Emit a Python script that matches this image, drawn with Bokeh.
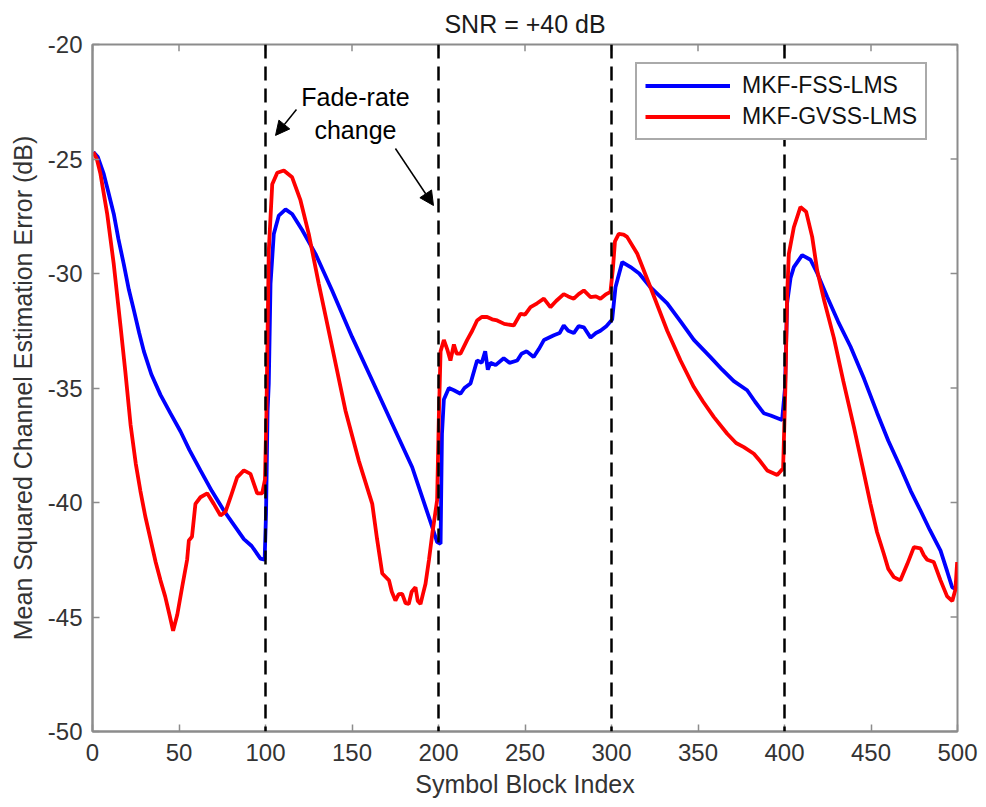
from bokeh.plotting import figure
from bokeh.models import (Span, Arrow, NormalHead, Label, Legend, LegendItem,
                          FixedTicker, Range1d, CustomJSTickFormatter)
from bokeh.embed import file_html
from bokeh.resources import INLINE

# ---------------- data ----------------
fss_x = [0.5, 3, 6.5, 9, 12.3, 15, 18.1, 21, 23.9, 27, 29.7, 34, 39.3, 45, 50.9, 56, 62.4, 69, 75.9, 81,
         87.5, 92, 97.1, 99.5, 100.3, 101.2, 101.9, 102.9, 104.8, 107.7, 111.6, 115.4, 121.2, 128.9, 138.5,
         150.1, 161.7, 173.2, 184.8, 196.4, 199.2, 201.2, 202, 203.1, 206, 208.9, 212.7, 215, 218.5, 222.3,
         225, 227, 228.5, 230, 233, 237.7, 241, 245.5, 248, 251, 255, 258, 261, 266.7, 270, 272.4, 275,
         278.2, 281, 284, 287.9, 291, 293.6, 297, 299.4, 300.4, 302.3, 306.2, 311, 316, 322.5, 332.2, 340,
         347.6, 357.2, 364, 370.7, 378.4, 383, 388, 392, 398.6, 400.3, 401.5, 403.5, 405.4, 410.2, 415, 419,
         424.7, 431, 438.2, 446, 453.6, 460, 467, 473, 478.6, 484, 490.2, 494, 496.9, 499.5]
fss_y = [-24.7, -24.9, -25.65, -26.4, -27.4, -28.5, -29.6, -30.7, -31.6, -32.6, -33.4, -34.4, -35.3, -36.1,
         -36.9, -37.7, -38.6, -39.5, -40.35, -40.9, -41.6, -41.9, -42.45, -42.5, -40.5, -36.0, -34.8, -30.45,
         -28.27, -27.47, -27.2, -27.4, -28.1, -29.14, -30.74, -32.78, -34.67, -36.56, -38.46, -41.08, -41.73,
         -41.8, -37.0, -35.5, -35.0, -35.1, -35.25, -35.0, -34.8, -33.8, -33.9, -33.4, -34.2, -33.9, -34.0,
         -33.7, -33.9, -33.8, -33.5, -33.4, -33.65, -33.3, -32.9, -32.7, -32.6, -32.27, -32.5, -32.6, -32.3,
         -32.35, -32.8, -32.6, -32.5, -32.3, -32.1, -32.0, -30.6, -29.5, -29.72, -30.0, -30.6, -31.3, -32.1,
         -32.9, -33.65, -34.2, -34.7, -35.1, -35.6, -36.1, -36.2, -36.4, -35.0, -31.3, -30.2, -29.72, -29.2,
         -29.4, -30.0, -31.03, -32.1, -33.2, -34.6, -36.1, -37.3, -38.46, -39.5, -40.35, -41.2, -42.1, -43.0,
         -43.7, -43.8]

gvss_x = [0.5, 2.5, 4.6, 8.5, 12.3, 16.2, 19, 22, 25, 27.7, 30.5, 33.5, 36.5, 39.3, 42, 44.5, 46.6, 49, 51.8,
          54.7, 55.7, 57.5, 59.5, 62.4, 66.3, 70.1, 74, 76.9, 79.8, 83.6, 87.5, 91.3, 95.2, 98.1, 99.7, 100.5,
          101.9, 103.9, 106.8, 110.6, 115.4, 120.2, 125, 130.8, 138.5, 146.2, 153.9, 161.7, 164.5, 167.5,
          171.4, 173, 175.1, 177, 179, 181, 182.8, 184.5, 186.7, 188, 189.6, 191, 192.5, 194.5, 196.4, 199.2,
          200.2, 201.2, 203.1, 205, 206.9, 208.9, 210.5, 212.7, 216.6, 219.5, 222.3, 225, 228.1, 231, 233.9,
          238, 243.5, 247.4, 250, 253.2, 257, 260.9, 264.7, 268, 272.4, 275, 278.2, 281, 284, 287.9, 291,
          293.6, 297, 299.4, 300.8, 302, 304.2, 307, 309, 314.9, 322.5, 332.2, 339.9, 347.6, 353, 359.2,
          366.9, 372, 376.5, 382.3, 386, 390, 395.8, 399.2, 400.5, 401.5, 402.5, 405.4, 409.2, 412.5, 416,
          418.9, 423, 428.5, 434, 440.1, 445, 449.7, 453.5, 457.4, 460, 463.2, 467, 470.9, 474.8, 478.6,
          480.5, 482.5, 486.3, 490.2, 494, 497, 498.8, 499.8]
gvss_y = [-24.7, -25.0, -25.65, -27.4, -29.6, -32.3, -34.3, -36.6, -38.3, -39.5, -40.6, -41.6, -42.6, -43.4,
          -44.1, -44.9, -45.6, -44.9, -43.7, -42.5, -41.66, -41.5, -40.06, -39.77, -39.6, -40.06, -40.57,
          -40.4, -39.77, -38.9, -38.6, -38.75, -39.6, -39.6, -39.0, -36.3, -29.0, -26.1, -25.6, -25.5, -25.8,
          -26.8, -28.27, -30.45, -33.2, -35.98, -38.17, -40.06, -41.6, -43.1, -43.4, -43.9, -44.28, -44.0,
          -43.99, -44.4, -44.43, -43.9, -43.7, -44.3, -44.43, -44.0, -43.55, -42.5, -41.37, -39.9, -36.27,
          -33.4, -32.9, -33.3, -33.8, -33.1, -33.5, -33.5, -32.9, -32.5, -32.05, -31.9, -31.9, -32.0, -32.05,
          -32.2, -32.27, -31.76, -31.8, -31.47, -31.3, -31.1, -31.47, -31.2, -30.9, -31.0, -31.1, -30.9,
          -30.74, -31.03, -31.0, -31.1, -30.9, -30.8, -29.8, -28.6, -28.27, -28.3, -28.4, -29.14, -30.6,
          -32.5, -33.8, -34.96, -35.6, -36.27, -37.0, -37.4, -37.58, -37.87, -38.2, -38.6, -38.8, -38.5,
          -35.0, -31.0, -29.14, -27.98, -27.1, -27.3, -28.4, -29.87, -31.2, -32.8, -34.7, -36.7, -38.4,
          -40.06, -41.3, -42.24, -42.9, -43.26, -43.4, -42.7, -41.95, -42.0, -42.3, -42.5, -42.6, -43.4,
          -44.1, -44.3, -43.8, -42.6]

change_points = [100, 200, 300, 400]
series_names = ["MKF-FSS-LMS", "MKF-GVSS-LMS"]
x_ticks = [0, 50, 100, 150, 200, 250, 300, 350, 400, 450, 500]
y_ticks = [-50, -45, -40, -35, -30, -25, -20]
title_text = "SNR = +40 dB"

# ---------------- styling ----------------
FONT = "Liberation Sans"
AXIS_GREY = "#8c8c8c"
TEXT_GREY = "#333333"
X_MIN, X_MAX, Y_MIN, Y_MAX = 0, 500, -50, -20

p = figure(frame_width=865, frame_height=687,
           x_range=Range1d(X_MIN, X_MAX), y_range=Range1d(Y_MIN, Y_MAX),
           output_backend="svg", toolbar_location=None,
           min_border_left=92, min_border_right=29, min_border_top=44, min_border_bottom=76,
           title=title_text)
p.title.align = "center"
p.title.text_font = FONT
p.title.text_font_size = "25px"
p.title.text_font_style = "normal"
p.title.text_color = "#1a1a1a"
p.title.standoff = 13

p.xgrid.visible = False
p.ygrid.visible = False
p.outline_line_color = AXIS_GREY
p.outline_line_width = 2
p.background_fill_color = "white"
p.border_fill_color = "white"

fmt = CustomJSTickFormatter(code="return tick.toString();")
for ax in (p.xaxis[0], p.yaxis[0]):
    ax.formatter = fmt
    ax.axis_line_color = AXIS_GREY
    ax.axis_line_width = 2
    ax.major_tick_line_color = AXIS_GREY
    ax.major_tick_line_width = 1.5
    ax.major_tick_in = 7
    ax.major_tick_out = 0
    ax.minor_tick_line_color = None
    ax.major_label_text_font = FONT
    ax.major_label_text_font_size = "24px"
    ax.major_label_text_color = TEXT_GREY
    ax.axis_label_text_font = FONT
    ax.axis_label_text_font_size = "25px"
    ax.axis_label_text_font_style = "normal"
    ax.axis_label_text_color = TEXT_GREY

p.xaxis[0].ticker = FixedTicker(ticks=x_ticks)
p.yaxis[0].ticker = FixedTicker(ticks=y_ticks)
p.xaxis[0].axis_label = "Symbol Block Index"
p.yaxis[0].axis_label = "Mean Squared Channel Estimation Error (dB)"
p.xaxis[0].major_label_standoff = 12
p.xaxis[0].axis_label_standoff = 6
p.yaxis[0].major_label_standoff = 10
p.yaxis[0].axis_label_standoff = 8

# mirrored (inward) tick marks on the top and right edges, from the tick lists
TICK_DY = 0.3   # data units ~ 7 px
TICK_DX = 4.0   # data units ~ 7 px
p.segment(x0=x_ticks, y0=[Y_MAX] * len(x_ticks), x1=x_ticks, y1=[Y_MAX - TICK_DY] * len(x_ticks),
          line_color=AXIS_GREY, line_width=1.5)
p.segment(x0=[X_MAX] * len(y_ticks), y0=y_ticks, x1=[X_MAX - TICK_DX] * len(y_ticks), y1=y_ticks,
          line_color=AXIS_GREY, line_width=1.5)

# fade-rate change markers
for cp in change_points:
    p.add_layout(Span(location=cp, dimension="height", line_color="black",
                      line_width=2.5, line_dash="14 8"))

r_fss = p.line(fss_x, fss_y, line_color="#0000ff", line_width=3.8)
r_gvss = p.line(gvss_x, gvss_y, line_color="#ff0000", line_width=3.8)

legend = Legend(items=[LegendItem(label=series_names[0], renderers=[r_fss]),
                       LegendItem(label=series_names[1], renderers=[r_gvss])],
                location=(543, 591), glyph_width=85, glyph_height=25, label_height=25,
                label_standoff=12, spacing=4, padding=8, margin=0,
                label_text_font=FONT, label_text_font_size="23px", label_text_color="#111111",
                border_line_color="#555555", border_line_width=2, background_fill_alpha=1)
p.add_layout(legend)

# annotation
p.add_layout(Label(x=152, y=-22.3, text="Fade-rate", text_font=FONT, text_font_size="25px",
                   text_align="center", text_baseline="middle", text_color="black"))
p.add_layout(Label(x=152, y=-23.75, text="change", text_font=FONT, text_font_size="25px",
                   text_align="center", text_baseline="middle", text_color="black"))
p.add_layout(Arrow(x_start=117.9, y_start=-22.84, x_end=105.8, y_end=-23.97, line_width=1.5,
                   line_color="black",
                   end=NormalHead(size=14, fill_color="black", line_color="black")))
p.add_layout(Arrow(x_start=175.1, y_start=-24.54, x_end=197.1, y_end=-27.03, line_width=1.5,
                   line_color="black",
                   end=NormalHead(size=14, fill_color="black", line_color="black")))

open("out.html", "w").write(file_html(p, INLINE))
